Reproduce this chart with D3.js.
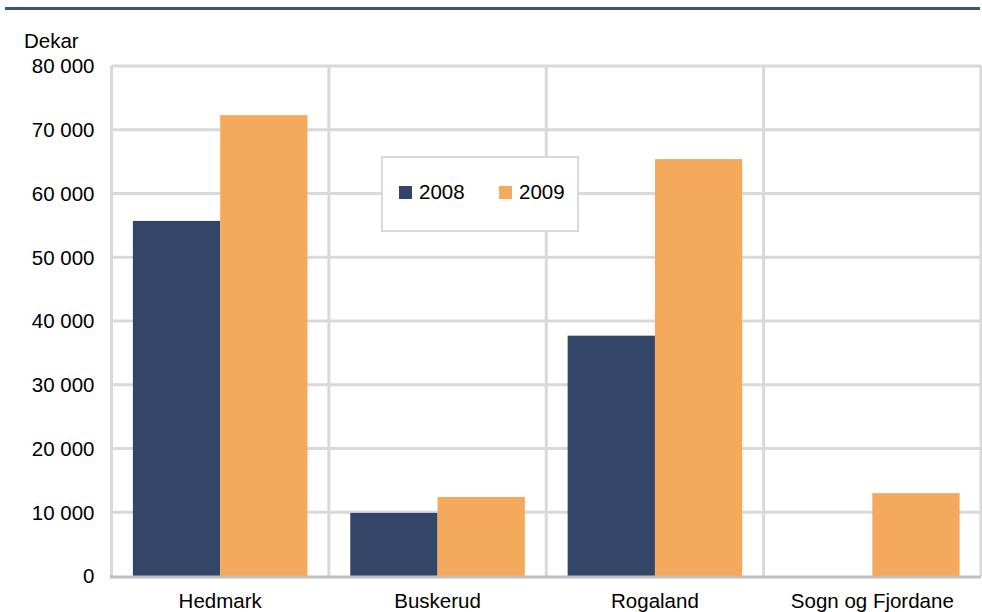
<!DOCTYPE html>
<html>
<head>
<meta charset="utf-8">
<script src="https://cdn.jsdelivr.net/npm/d3@7"></script>
<style>
  body { margin: 0; background: #fff; }
  text { font-family: "Liberation Sans", Arial, sans-serif; fill: #000; }
</style>
</head>
<body>
<div id="chart"></div>
<script>
/* DATA */
const categories = ["Hedmark", "Buskerud", "Rogaland", "Sogn og Fjordane"];
const years = ["2008", "2009"];
const values2008 = [55700, 9900, 37700, 0];
const values2009 = [72300, 12400, 65400, 13000];
const yTicks = [0, 10000, 20000, 30000, 40000, 50000, 60000, 70000, 80000];

const colors = { "2008": "#344667", "2009": "#f5a95c" };

const W = 982, H = 612,
  margin = { top: 66, right: 1, bottom: 36, left: 111.5 },
  width = 981 - margin.left,
  height = 576 - margin.top,
  fontSize = 20.5;

const data = categories.map((c, i) => ({ cat: c, "2008": values2008[i], "2009": values2009[i] }));

const svg = d3.select("#chart").append("svg")
  .attr("width", W)
  .attr("height", H);

// top rule
svg.append("rect")
  .attr("x", 5).attr("y", 7)
  .attr("width", 975).attr("height", 3)
  .attr("fill", "#3b5279");

const g = svg.append("g")
  .attr("transform", `translate(${margin.left},${margin.top})`);

const x = d3.scaleBand()
  .domain(categories)
  .range([0, width]);

const x1 = d3.scaleBand()
  .domain(years)
  .range([0, x.bandwidth()])
  .paddingOuter(0.245);

const y = d3.scaleLinear()
  .domain([0, 80000])
  .range([height, 0]);

// horizontal gridlines
g.selectAll(".hgrid")
  .data(yTicks.slice(1))
  .join("line")
  .attr("class", "hgrid")
  .attr("x1", 0).attr("x2", width)
  .attr("y1", d => y(d)).attr("y2", d => y(d))
  .attr("stroke", "#d9d9d9")
  .attr("stroke-width", 3);

// vertical gridlines at category boundaries
g.selectAll(".vgrid")
  .data(categories)
  .join("line")
  .attr("class", "vgrid")
  .attr("x1", d => x(d) + x.bandwidth()).attr("x2", d => x(d) + x.bandwidth())
  .attr("y1", 0).attr("y2", height)
  .attr("stroke", "#d9d9d9")
  .attr("stroke-width", 3);

g.append("line")
  .attr("x1", 0).attr("x2", 0)
  .attr("y1", 0).attr("y2", height)
  .attr("stroke", "#d9d9d9")
  .attr("stroke-width", 3);

// bars
const groups = g.selectAll(".grp")
  .data(data)
  .join("g")
  .attr("class", "grp")
  .attr("transform", d => `translate(${x(d.cat)},0)`);

groups.selectAll("rect")
  .data(d => years.map(k => ({ key: k, value: d[k] })))
  .join("rect")
  .attr("x", d => x1(d.key))
  .attr("width", x1.bandwidth())
  .attr("y", d => y(d.value))
  .attr("height", d => height - y(d.value))
  .attr("fill", d => colors[d.key]);

// bottom axis line
g.append("line")
  .attr("x1", -1.5).attr("x2", width)
  .attr("y1", height + 1).attr("y2", height + 1)
  .attr("stroke", "#bfbfbf")
  .attr("stroke-width", 3);

// y tick labels
const fmt = v => d3.format(",")(v).replace(/,/g, " ");
g.selectAll(".ylab")
  .data(yTicks)
  .join("text")
  .attr("class", "ylab")
  .attr("x", -17)
  .attr("y", d => y(d))
  .attr("dy", "0.36em")
  .attr("text-anchor", "end")
  .attr("font-size", fontSize)
  .text(fmt);

// x labels
g.selectAll(".xlab")
  .data(categories)
  .join("text")
  .attr("class", "xlab")
  .attr("x", d => x(d) + x.bandwidth() / 2)
  .attr("y", height + 32)
  .attr("text-anchor", "middle")
  .attr("font-size", fontSize)
  .text(d => d);

// unit label
svg.append("text")
  .attr("x", 24).attr("y", 48)
  .attr("font-size", fontSize)
  .text("Dekar");

// legend
const legend = svg.append("g").attr("transform", "translate(382,157)");
legend.append("rect")
  .attr("x", 0).attr("y", 0)
  .attr("width", 196).attr("height", 74)
  .attr("fill", "#fff")
  .attr("stroke", "#d9d9d9")
  .attr("stroke-width", 2);

const items = legend.selectAll(".item")
  .data(years)
  .join("g")
  .attr("class", "item")
  .attr("transform", (d, i) => `translate(${17 + i * 100},29)`);

items.append("rect")
  .attr("width", 13).attr("height", 13)
  .attr("fill", d => colors[d]);

items.append("text")
  .attr("x", 20).attr("y", 13)
  .attr("font-size", fontSize)
  .text(d => d);
</script>
</body>
</html>
